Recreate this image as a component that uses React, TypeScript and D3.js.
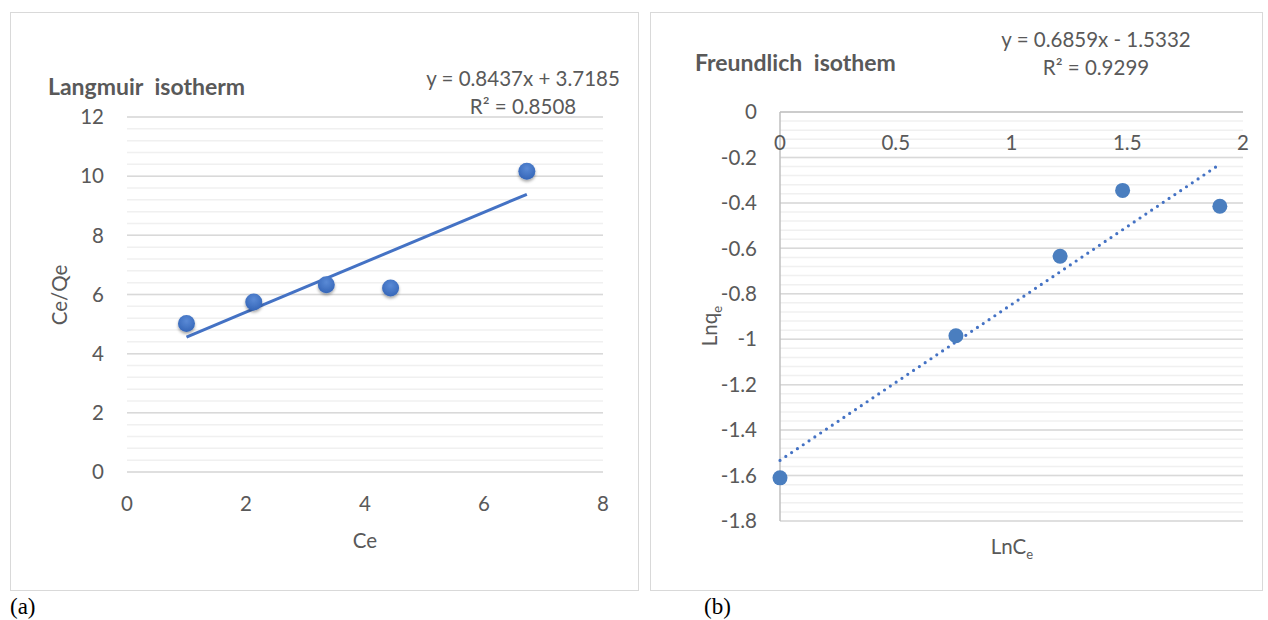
import * as d3 from 'd3';

// Langmuir (a)
const langmuirCe = [1.0, 2.13, 3.35, 4.43, 6.72];
const langmuirCeQe = [5.02, 5.75, 6.33, 6.22, 10.17];
const langmuirFit = { slope: 0.8437, intercept: 3.7185, r2: '0.8508' };
const langmuirXTicks = [0, 2, 4, 6, 8];
const langmuirYTicks = [0, 2, 4, 6, 8, 10, 12];

// Freundlich (b)
const freundlichLnCe = [0, 0.76, 1.21, 1.48, 1.9];
const freundlichLnQe = [-1.61, -0.985, -0.635, -0.345, -0.415];
const freundlichFit = { slope: 0.6859, intercept: -1.5332, r2: '0.9299' };
const freundlichXTicks = [0, 0.5, 1, 1.5, 2];
const freundlichYTicks = [0, -0.2, -0.4, -0.6, -0.8, -1, -1.2, -1.4, -1.6, -1.8];

const FONT = 'Lato, "Open Sans", sans-serif';
const TEXT = '#595959';
const BLUE = '#4472c4';
const FS = 20.5;

const LangmuirChart = () => {
  const x = d3.scaleLinear().domain([0, 8]).range([127, 603]);
  const y = d3.scaleLinear().domain([0, 12]).range([472, 117]);
  const minor = d3.range(0, 12.001, 0.4);
  const pts = langmuirCe.map((c, i) => [c, langmuirCeQe[i]] as [number, number]);
  const x0 = d3.min(langmuirCe)!;
  const x1 = d3.max(langmuirCe)!;
  const f = (v: number) => langmuirFit.slope * v + langmuirFit.intercept;
  return (
    <g>
      <rect x={10.5} y={12.5} width={628} height={578} fill="#fff" stroke="#d9d9d9" />
      {minor.map((v) => (
        <line key={'m' + v} x1={x(0)} x2={x(8)} y1={y(v)} y2={y(v)} stroke="#f0f0f0" strokeWidth={1.5} />
      ))}
      {langmuirYTicks.map((v) => (
        <g key={'y' + v}>
          <line x1={x(0)} x2={x(8)} y1={y(v)} y2={y(v)} stroke="#d9d9d9" strokeWidth={1.5} />
          <text x={104} y={y(v)} dy="0.35em" textAnchor="end" fontSize={FS} fill={TEXT} fontFamily={FONT}>
            {v}
          </text>
        </g>
      ))}
      {langmuirXTicks.map((v) => (
        <text key={'x' + v} x={x(v)} y={504} dy="0.35em" textAnchor="middle" fontSize={FS} fill={TEXT} fontFamily={FONT}>
          {v}
        </text>
      ))}
      <text x={365} y={541} dy="0.35em" textAnchor="middle" fontSize={FS} fill={TEXT} fontFamily={FONT}>Ce</text>
      <text transform="translate(60,295) rotate(-90)" dy="0.35em" textAnchor="middle" fontSize={FS} fill={TEXT} fontFamily={FONT}>Ce/Qe</text>
      <text x={48} y={87} dy="0.35em" fontSize={23} fontWeight="bold" fill={TEXT} fontFamily={FONT} wordSpacing={6}>Langmuir isotherm</text>
      <text x={523} y={79} dy="0.35em" textAnchor="middle" fontSize={FS} fill={TEXT} fontFamily={FONT}>y = 0.8437x + 3.7185</text>
      <text x={523} y={107} dy="0.35em" textAnchor="middle" fontSize={FS} fill={TEXT} fontFamily={FONT}>R² = {langmuirFit.r2}</text>
      <line x1={x(x0)} y1={y(f(x0))} x2={x(x1)} y2={y(f(x1))} stroke={BLUE} strokeWidth={3} />
      {pts.map(([a, b], i) => (
        <circle key={i} cx={x(a)} cy={y(b)} r={8.5} fill="url(#markerGrad)" filter="url(#shadow)" />
      ))}
    </g>
  );
};

const FreundlichChart = () => {
  const x = d3.scaleLinear().domain([0, 2]).range([780, 1243]);
  const y = d3.scaleLinear().domain([-1.8, 0]).range([521, 112]);
  const minor = d3.range(-1.8, 0.001, 0.04);
  const pts = freundlichLnCe.map((c, i) => [c, freundlichLnQe[i]] as [number, number]);
  const x0 = d3.min(freundlichLnCe)!;
  const x1 = d3.max(freundlichLnCe)!;
  const f = (v: number) => freundlichFit.slope * v + freundlichFit.intercept;
  return (
    <g>
      <rect x={650.5} y={12.5} width={612} height={578} fill="#fff" stroke="#d9d9d9" />
      {minor.map((v, i) => (
        <line key={'m' + i} x1={x(0)} x2={x(2)} y1={y(v)} y2={y(v)} stroke="#f0f0f0" strokeWidth={1.5} />
      ))}
      {freundlichYTicks.map((v) => (
        <g key={'y' + v}>
          <line x1={x(0)} x2={x(2)} y1={y(v)} y2={y(v)} stroke={v === 0 ? '#bfbfbf' : '#d9d9d9'} strokeWidth={1.5} />
          <text x={757} y={y(v)} dy="0.35em" textAnchor="end" fontSize={FS} fill={TEXT} fontFamily={FONT}>
            {v}
          </text>
        </g>
      ))}
      <line x1={x(0)} x2={x(0)} y1={y(0)} y2={y(-1.8)} stroke="#bfbfbf" strokeWidth={1.5} />
      {freundlichXTicks.map((v) => (
        <text key={'x' + v} x={x(v)} y={143} dy="0.35em" textAnchor="middle" fontSize={FS} fill={TEXT} fontFamily={FONT}>
          {v}
        </text>
      ))}
      <text x={1012} y={547} dy="0.35em" textAnchor="middle" fontSize={FS} fill={TEXT} fontFamily={FONT}>
        LnC<tspan fontSize={13} dy="0.35em">e</tspan>
      </text>
      <text transform="translate(710,326) rotate(-90)" dy="0.35em" textAnchor="middle" fontSize={FS} fill={TEXT} fontFamily={FONT}>
        Lnq<tspan fontSize={13} dy="0.35em">e</tspan>
      </text>
      <text x={695} y={63} dy="0.35em" fontSize={23} fontWeight="bold" fill={TEXT} fontFamily={FONT} wordSpacing={6}>Freundlich isothem</text>
      <text x={1096} y={40} dy="0.35em" textAnchor="middle" fontSize={FS} fill={TEXT} fontFamily={FONT}>y = 0.6859x - 1.5332</text>
      <text x={1096} y={68} dy="0.35em" textAnchor="middle" fontSize={FS} fill={TEXT} fontFamily={FONT}>R² = {freundlichFit.r2}</text>
      <line
        x1={x(x0)}
        y1={y(f(x0))}
        x2={x(x1)}
        y2={y(f(x1))}
        stroke={BLUE}
        strokeWidth={3.2}
        strokeLinecap="round"
        strokeDasharray="0 7"
      />
      {pts.map(([a, b], i) => (
        <circle key={i} cx={x(a)} cy={y(b)} r={7.5} fill="#4a7ebf" />
      ))}
    </g>
  );
};

export default function App() {
  return (
    <svg width={1268} height={620} style={{ position: 'absolute', left: 0, top: 0, background: '#fff' }}>
      <defs>
        <radialGradient id="markerGrad" cx="50%" cy="35%" r="65%">
          <stop offset="0%" stopColor="#5a8ad6" />
          <stop offset="100%" stopColor="#3566b8" />
        </radialGradient>
        <filter id="shadow" x="-50%" y="-50%" width="200%" height="200%">
          <feDropShadow dx={0} dy={2} stdDeviation={1.5} floodColor="#000" floodOpacity={0.35} />
        </filter>
      </defs>
      <rect width={1268} height={620} fill="#fff" />
      <LangmuirChart />
      <FreundlichChart />
      <text x={10} y={614} fontSize={23} fontFamily='"Liberation Serif", serif' fill="#000">(a)</text>
      <text x={704} y={614} fontSize={23} fontFamily='"Liberation Serif", serif' fill="#000">(b)</text>
    </svg>
  );
}
